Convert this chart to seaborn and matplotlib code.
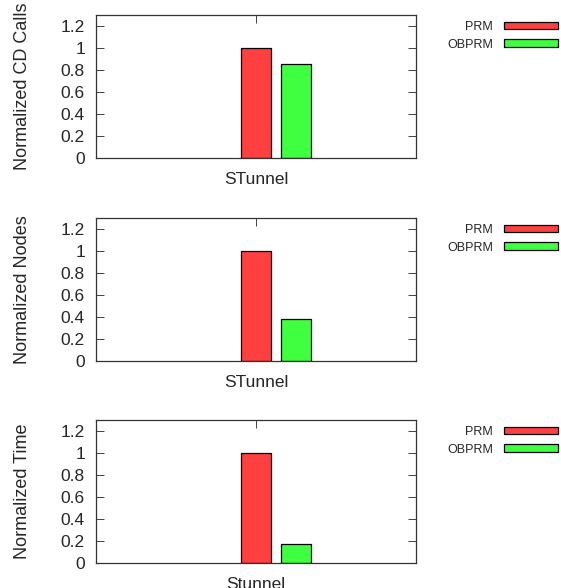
import matplotlib
matplotlib.use('Agg')
import matplotlib.pyplot as plt
import pandas as pd
import seaborn as sns

# data
methods = ['PRM', 'OBPRM']
colors = ['#ff4040', '#40ff40']
cd_calls = [1.0, 0.855]
nodes = [1.0, 0.38]
times = [1.0, 0.17]
panels = [
    ('STunnel', 'Normalized CD Calls', cd_calls),
    ('STunnel', 'Normalized Nodes', nodes),
    ('Stunnel', 'Normalized Time', times),
]
yticks = [0, 0.2, 0.4, 0.6, 0.8, 1, 1.2]
ytick_labels = ['0', '0.2', '0.4', '0.6', '0.8', '1', '1.2']

sns.set_style('ticks')
plt.rcParams['font.family'] = ['Liberation Sans', 'DejaVu Sans']

W, H = 561, 588
fig = plt.figure(figsize=(W / 100, H / 100), dpi=100)
# (top, bottom) of each axes box in pixels
boxes = [(15, 158), (218, 361), (420, 563)]
left, right = 96, 416

for (cat, ylab, vals), (top, bot) in zip(panels, boxes):
    ax = fig.add_axes([left / W, 1 - bot / H, (right - left) / W, (bot - top) / H])
    df = pd.DataFrame({'case': [cat] * len(methods), 'method': methods,
                       'value': vals})
    sns.barplot(data=df, x='case', y='value', hue='method', hue_order=methods,
                palette=colors, edgecolor='black', linewidth=0.9,
                width=0.8, gap=0.25, saturation=1, ax=ax)
    first = ax.patches[0]
    c = first.get_x() + first.get_width() / 2
    ax.set_xticks([c])
    ax.set_xticklabels([cat])
    ax.set_xlim(c - 1.6, c + 1.6)
    ax.set_ylim(0, 1.3)
    ax.set_yticks(yticks)
    ax.set_yticklabels(ytick_labels)
    ax.set_xlabel('')
    ax.set_ylabel(ylab, fontsize=13)
    ax.yaxis.set_label_coords(-0.203, 0.5)
    ax.set_axisbelow(True)
    ax.tick_params(direction='in', length=6, width=0.7, color='#444444',
                   top=True, right=True, labelsize=12.5)
    ax.tick_params(axis='y', pad=8)
    ax.tick_params(axis='x', pad=10)
    for s in ax.spines.values():
        s.set_linewidth(0.9)
        s.set_color('#333333')

    handles, labels = ax.get_legend_handles_labels()
    ax.legend(handles, labels, loc='upper right', frameon=False,
              bbox_to_anchor=(558 / W, 1 - (top + 6) / H),
              bbox_transform=fig.transFigure, markerfirst=False,
              fontsize=9, handlelength=4.3, handleheight=0.56,
              handletextpad=0.9, labelspacing=0.45, borderpad=0,
              borderaxespad=0)

fig.savefig('out.png', dpi=100)
